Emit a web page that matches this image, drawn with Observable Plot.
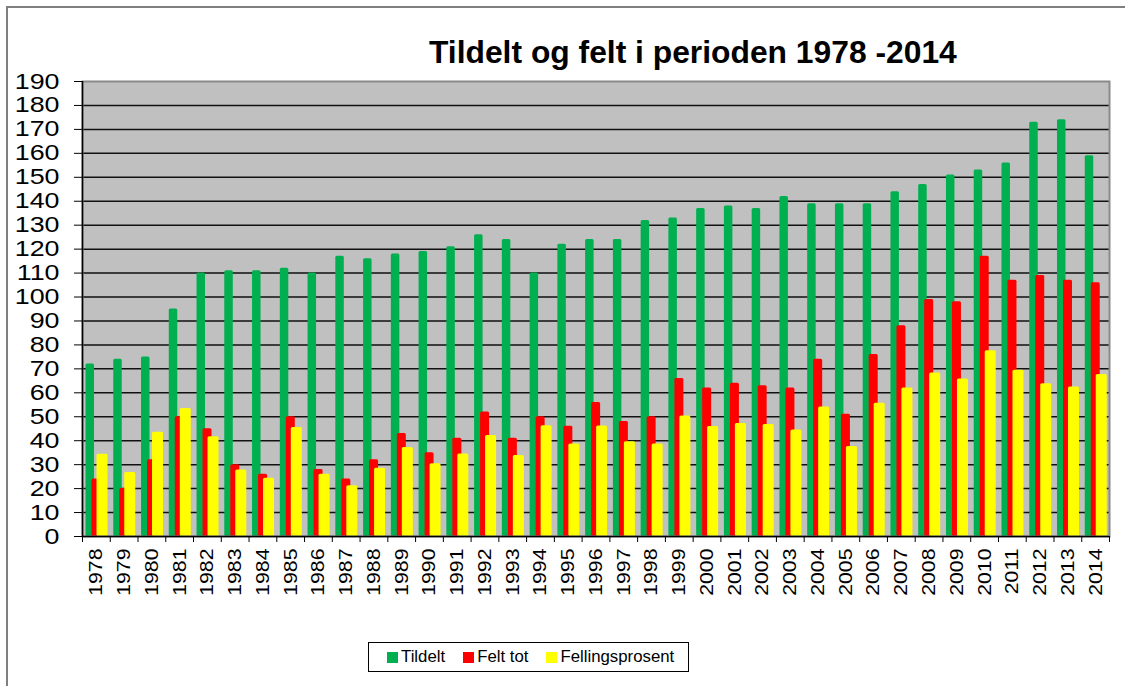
<!DOCTYPE html>
<html><head><meta charset="utf-8">
<script src="https://cdn.jsdelivr.net/npm/d3@7"></script>
<script src="https://cdn.jsdelivr.net/npm/@observablehq/plot@0.6"></script>
<style>
body{margin:0;background:#fff;font-family:"Liberation Sans",Arial,sans-serif;}
#page{position:relative;width:1125px;height:686px;overflow:hidden;background:#fff;}
#border{position:absolute;left:6px;top:6px;width:1300px;height:900px;border:2px solid #7f7f7f;box-sizing:border-box;}
#chart{position:absolute;left:0;top:0;}
#title{position:absolute;left:429px;top:37.4px;font-size:31.8px;line-height:31.8px;font-weight:bold;color:#000;white-space:nowrap;}
#legend{position:absolute;left:368px;top:642px;width:321px;height:30px;border:1px solid #000;box-sizing:border-box;background:#fff;display:flex;align-items:center;padding-left:18px;gap:18px;font-size:16.8px;color:#000;}
#legend .item{display:flex;align-items:center;white-space:nowrap;}
#legend .sw{width:11px;height:11px;margin-right:3px;display:inline-block;}
</style></head>
<body><div id="page"><div id="border"></div><div id="chart"></div><div id="title">Tildelt og felt i perioden 1978 -2014</div><div id="legend"></div></div>
<script>
const years = [1978,1979,1980,1981,1982,1983,1984,1985,1986,1987,1988,1989,1990,1991,1992,1993,1994,1995,1996,1997,1998,1999,2000,2001,2002,2003,2004,2005,2006,2007,2008,2009,2010,2011,2012,2013,2014];
const tildelt = [72,74,75,95,110,111,111,112,110,117,116,118,119,121,126,124,110,122,124,124,132,133,137,138,137,142,139,139,139,144,147,151,153,156,173,174,159];
const feltTot = [24,20,32,50,45,30,26,50,28,24,32,43,35,41,52,41,50,46,56,48,50,66,62,64,63,62,74,51,76,88,99,98,117,107,109,107,106];
const fellingsprosent = [34.3,26.7,43.5,53.5,41.7,27.8,24.3,45.5,26,21.2,28.5,37.2,30.4,34.5,42.2,33.8,46.2,38.6,46.1,39.6,38.6,50.3,45.9,47.2,46.8,44.5,54.1,37.6,55.6,62,68.3,65.8,77.6,69.4,63.8,62.4,67.7];
const seriesNames = ["Tildelt","Felt tot","Fellingsprosent"];
const seriesColors = ["#00b050","#ff0000","#ffff00"];
const yTicks = [0,10,20,30,40,50,60,70,80,90,100,110,120,130,140,150,160,170,180,190];
const titleText = "Tildelt og felt i perioden 1978 -2014";

const rows = years.map((yr,i)=>({year:String(yr), tildelt:tildelt[i], felt:feltTot[i], pros:fellingsprosent[i]}));
const W=1125,H=686,mL=82,mR=16,mT=81,mB=150;
const bw=(W-mL-mR)/years.length;
const gridTicks = yTicks.filter(d=>d>yTicks[0] && d<yTicks[yTicks.length-1]);

const svg = Plot.plot({
  width:W,height:H,marginLeft:mL,marginRight:mR,marginTop:mT,marginBottom:mB,
  style:{fontFamily:"Liberation Sans, Arial, sans-serif",color:"#000",background:"transparent"},
  x:{type:"band",domain:years.map(String),padding:0,round:false,label:null},
  y:{domain:[yTicks[0],yTicks[yTicks.length-1]],label:null},
  marks:[
    Plot.frame({fill:"#c0c0c0",stroke:null}),
    Plot.ruleY(gridTicks,{stroke:"#111",strokeWidth:1.5}),
    Plot.barY(rows,{x:"year",y:"tildelt",fill:seriesColors[0],insetLeft:3.5,insetRight:bw-12,rx:1.5}),
    Plot.barY(rows,{x:"year",y:"felt",fill:seriesColors[1],insetLeft:9.5,insetRight:bw-18.5,rx:1.5}),
    Plot.barY(rows,{x:"year",y:"pros",fill:seriesColors[2],insetLeft:14.5,insetRight:bw-25.5,rx:1.5}),
    Plot.frame({stroke:"#8a8a8a",strokeWidth:2,fill:"none"}),
    Plot.ruleY([0],{stroke:"#000",strokeWidth:1.5}),
    Plot.ruleX([String(years[0])],{dx:-bw/2,stroke:"#000",strokeWidth:1.5}),
    Plot.axisY({ticks:yTicks,tickSize:8,tickPadding:15,fontSize:22,tickFormat:d=>String(d),label:null,stroke:"#000"}),
    Plot.axisX({tickSize:6,dx:-bw/2,tickFormat:()=>"",label:null,stroke:"#000"}),
    Plot.axisX({ticks:[String(years[years.length-1])],tickSize:6,dx:bw/2,tickFormat:()=>"",label:null,stroke:"#000"}),
    Plot.axisX({tickSize:0,tickRotate:-90,tickPadding:12,fontSize:18.5,label:null})
  ]
});
document.getElementById("chart").append(svg);
function stretch(sel,f){
  svg.querySelectorAll(sel).forEach(t=>{
    const w=t.getComputedTextLength();
    if(w>0){t.setAttribute("textLength",w*f);t.setAttribute("lengthAdjust","spacingAndGlyphs");}
  });
}
stretch('g[aria-label="y-axis tick label"] text',1.22);
stretch('g[aria-label="x-axis tick label"] text',1.15);

document.getElementById("title").textContent = titleText;
const legend=document.getElementById("legend");
seriesNames.forEach((n,i)=>{
  const it=document.createElement("div");it.className="item";
  const sw=document.createElement("span");sw.className="sw";sw.style.background=seriesColors[i];
  const tx=document.createElement("span");tx.textContent=n;
  it.append(sw,tx);legend.append(it);
});
</script>
</body></html>
